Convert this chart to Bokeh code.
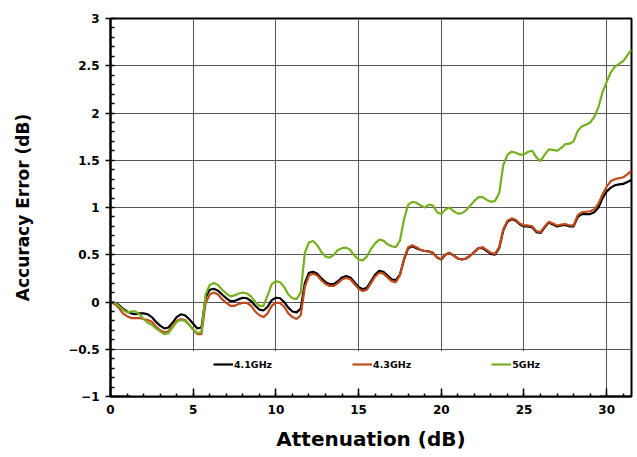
from bokeh.plotting import figure
from bokeh.models import Legend, LegendItem, BoxAnnotation, SingleIntervalTicker, Range1d
from bokeh.embed import file_html
from bokeh.resources import INLINE

attenuation = [i * 0.25 for i in range(127)]

err_41 = [0.00, -0.01, -0.03, -0.07, -0.10, -0.12, -0.13, -0.12, -0.12, -0.13,
          -0.16, -0.21, -0.25, -0.28, -0.27, -0.22, -0.16, -0.13, -0.14, -0.18,
          -0.23, -0.28, -0.27, 0.05, 0.13, 0.14, 0.12, 0.08, 0.04, 0.01,
          0.01, 0.03, 0.045, 0.04, 0.01, -0.04, -0.08, -0.09, -0.05, 0.02,
          0.045, 0.04, 0.00, -0.06, -0.10, -0.11, -0.07, 0.20, 0.31, 0.32,
          0.30, 0.25, 0.21, 0.19, 0.19, 0.22, 0.26, 0.275, 0.26, 0.21,
          0.16, 0.135, 0.15, 0.22, 0.29, 0.33, 0.32, 0.28, 0.24, 0.23,
          0.29, 0.45, 0.57, 0.59, 0.57, 0.55, 0.54, 0.535, 0.52, 0.47,
          0.45, 0.50, 0.52, 0.49, 0.46, 0.45, 0.46, 0.49, 0.53, 0.57,
          0.57, 0.54, 0.51, 0.50, 0.57, 0.76, 0.85, 0.875, 0.86, 0.82,
          0.80, 0.80, 0.79, 0.74, 0.73, 0.79, 0.84, 0.82, 0.80, 0.81,
          0.815, 0.80, 0.80, 0.90, 0.93, 0.93, 0.93, 0.95, 1.00, 1.10,
          1.17, 1.21, 1.235, 1.245, 1.25, 1.27, 1.29]

err_43 = [0.00, -0.02, -0.06, -0.12, -0.15, -0.17, -0.17, -0.17, -0.18, -0.19,
          -0.21, -0.26, -0.30, -0.32, -0.31, -0.25, -0.20, -0.18, -0.19, -0.24,
          -0.29, -0.34, -0.34, -0.01, 0.08, 0.10, 0.08, 0.03, -0.01, -0.04,
          -0.04, -0.02, -0.01, -0.01, -0.04, -0.10, -0.14, -0.16, -0.12, -0.04,
          -0.01, -0.01, -0.05, -0.12, -0.16, -0.18, -0.14, 0.16, 0.28, 0.30,
          0.28, 0.23, 0.19, 0.17, 0.17, 0.20, 0.24, 0.255, 0.24, 0.19,
          0.14, 0.115, 0.13, 0.20, 0.27, 0.31, 0.30, 0.26, 0.22, 0.21,
          0.28, 0.46, 0.58, 0.60, 0.58, 0.55, 0.54, 0.535, 0.52, 0.47,
          0.45, 0.50, 0.52, 0.49, 0.46, 0.45, 0.46, 0.49, 0.53, 0.57,
          0.58, 0.55, 0.52, 0.51, 0.58, 0.77, 0.86, 0.885, 0.87, 0.83,
          0.81, 0.81, 0.80, 0.75, 0.74, 0.80, 0.85, 0.83, 0.81, 0.82,
          0.825, 0.81, 0.81, 0.92, 0.95, 0.955, 0.96, 0.98, 1.04, 1.14,
          1.22, 1.28, 1.30, 1.31, 1.32, 1.35, 1.39]

err_5 = [0.00, -0.01, -0.04, -0.08, -0.11, -0.10, -0.10, -0.13, -0.18, -0.22,
         -0.24, -0.28, -0.31, -0.34, -0.33, -0.27, -0.21, -0.19, -0.20, -0.24,
         -0.29, -0.33, -0.32, 0.08, 0.18, 0.20, 0.18, 0.13, 0.09, 0.06,
         0.07, 0.09, 0.10, 0.09, 0.06, 0.00, -0.04, -0.04, 0.07, 0.19,
         0.22, 0.21, 0.16, 0.08, 0.04, 0.03, 0.10, 0.52, 0.63, 0.645,
         0.60, 0.53, 0.48, 0.47, 0.50, 0.55, 0.57, 0.575, 0.55, 0.49,
         0.45, 0.44, 0.48, 0.56, 0.62, 0.66, 0.65, 0.61, 0.59, 0.58,
         0.65, 0.88, 1.03, 1.06, 1.05, 1.02, 1.00, 1.03, 1.02, 0.95,
         0.93, 0.98, 1.00, 0.96, 0.935, 0.94, 0.97, 1.02, 1.07, 1.11,
         1.11, 1.08, 1.06, 1.07, 1.15, 1.45, 1.56, 1.59, 1.58, 1.56,
         1.56, 1.59, 1.60, 1.53, 1.49, 1.56, 1.615, 1.61, 1.60, 1.63,
         1.67, 1.675, 1.70, 1.81, 1.86, 1.875, 1.90, 1.96, 2.06, 2.22,
         2.33, 2.43, 2.49, 2.52, 2.55, 2.61, 2.67]

series_names = ["4.1GHz", "4.3GHz", "5GHz"]
series_colors = ["#000000", "#C04A1A", "#76B01E"]

FONT = "DejaVu Sans"

p = figure(frame_width=521, frame_height=378,
           x_range=Range1d(0, 31.5), y_range=Range1d(-1, 3),
           output_backend="svg", toolbar_location=None,
           min_border_left=110, min_border_top=18,
           min_border_right=4, min_border_bottom=55)

p.outline_line_color = "black"
p.outline_line_width = 2
p.background_fill_color = "white"
p.border_fill_color = "white"

p.xaxis.ticker = SingleIntervalTicker(interval=5, num_minor_ticks=5)
p.yaxis.ticker = SingleIntervalTicker(interval=0.5, num_minor_ticks=5)

for ax in (p.xaxis[0], p.yaxis[0]):
    ax.axis_line_color = "black"
    ax.axis_line_width = 2
    ax.major_tick_line_color = "black"
    ax.minor_tick_line_color = "black"
    ax.major_tick_line_width = 1.5
    ax.minor_tick_line_width = 1.5
    ax.major_label_text_font = FONT
    ax.major_label_text_font_style = "bold"
    ax.major_label_text_font_size = "12px"
    ax.major_label_text_color = "black"
    ax.axis_label_text_font = FONT
    ax.axis_label_text_font_style = "bold"
    ax.axis_label_text_color = "black"

p.xaxis.axis_label = "Attenuation (dB)"
p.yaxis.axis_label = "Accuracy Error (dB)"
p.xaxis.axis_label_text_font_size = "20px"
p.yaxis.axis_label_text_font_size = "17px"
p.xaxis.major_tick_in = 8
p.xaxis.major_tick_out = 0
p.xaxis.minor_tick_in = 3
p.xaxis.minor_tick_out = 0
p.xaxis.major_label_standoff = 8
p.xaxis.axis_label_standoff = 10
p.yaxis.major_tick_in = 0
p.yaxis.major_tick_out = 5
p.yaxis.minor_tick_in = 4
p.yaxis.minor_tick_out = 0
p.yaxis.major_label_standoff = 6
p.yaxis.axis_label_standoff = 32

p.xgrid.grid_line_color = "#555555"
p.ygrid.grid_line_color = "#555555"
p.xgrid.grid_line_width = 1
p.ygrid.grid_line_width = 1

# white legend panel
p.add_layout(BoxAnnotation(left=1.2, right=29.6, bottom=-1, top=-0.52,
                           fill_color="white", fill_alpha=1.0,
                           line_color=None, level="underlay"))

renderers = []
for ys, c in zip([err_41, err_43, err_5], series_colors):
    r = p.line(attenuation, ys, line_color=c, line_width=2.2)
    renderers.append(r)

legend = Legend(items=[LegendItem(label=n, renderers=[r]) for n, r in zip(series_names, renderers)],
                orientation="horizontal", location=(103, 26),
                label_text_font=FONT, label_text_font_style="bold",
                label_text_font_size="9.5px", label_text_color="black",
                glyph_width=20, glyph_height=12, label_standoff=1,
                spacing=80, padding=4, margin=0,
                background_fill_alpha=0.0, border_line_color=None,
                label_height=12)
p.add_layout(legend)

open("out.html", "w").write(file_html(p, INLINE))
